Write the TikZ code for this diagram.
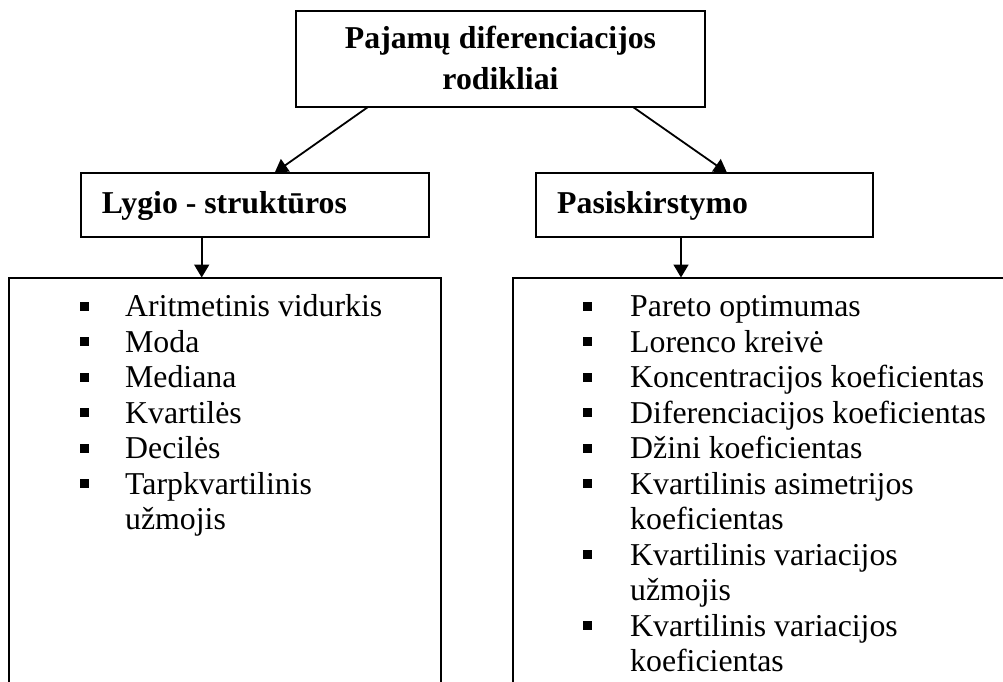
\documentclass[tikz,border=0pt]{standalone}
\usepackage{fontspec}
\setmainfont{Liberation Serif}
\usetikzlibrary{arrows.meta,calc}
\newcommand{\bulsq}[1]{\makebox[#1][l]{\raisebox{6pt}{\rule{9pt}{9pt}}}}
\tikzset{
  box/.style={draw, line width=2pt, inner sep=0pt, outer sep=0pt, anchor=north west},
  openbox/.style={inner sep=0pt, outer sep=0pt, anchor=north west},
  conn/.style={line width=1.8pt, -{Triangle[length=13pt,width=15pt]}},
  edge/.style={line width=2pt},
  bigtxt/.style={inner sep=0pt, font=\fontsize{31.8}{41}\selectfont\bfseries},
  listtxt/.style={inner sep=0pt, anchor=base west, font=\fontsize{31.8}{35.5}\selectfont}
}
\begin{document}
\begin{tikzpicture}[x=1pt,y=-1pt]
\useasboundingbox (0,0) rectangle (1003,681);
% boxes
\node[box, minimum width=409pt, minimum height=96pt] (top) at (296,11) {};
\node[box, minimum width=348.3pt, minimum height=64pt] (lmid) at (80.7,172.7) {};
\node[box, minimum width=336.7pt, minimum height=64pt] (rmid) at (536,172.7) {};
\node[openbox, minimum width=432pt, minimum height=420pt] (lbot) at (9,277.5) {};
\node[openbox, minimum width=500pt, minimum height=420pt] (rbot) at (513,277.5) {};
\draw[edge] (lbot.south west) -- (lbot.north west) -- (lbot.north east) -- (lbot.south east);
\draw[edge] (rbot.south west) -- (rbot.north west) -- (rbot.north east);
% texts
\node[bigtxt, anchor=base] (title) at (500.5,48.3)
  {\begin{tabular}[t]{@{}c@{}}Pajamų diferenciacijos\\rodikliai\end{tabular}};
\node[bigtxt, anchor=base west] (ltitle) at (101.7,213) {Lygio - struktūros};
\node[bigtxt, anchor=base west] (rtitle) at (557,213) {Pasiskirstymo};
\node[listtxt] (llist) at (80,316.7) {\begin{tabular}[t]{@{}l@{}l@{}}
\bulsq{45pt} & Aritmetinis vidurkis\\
\bulsq{45pt} & Moda\\
\bulsq{45pt} & Mediana\\
\bulsq{45pt} & Kvartilės\\
\bulsq{45pt} & Decilės\\
\bulsq{45pt} & Tarpkvartilinis\\
 & užmojis
\end{tabular}};
\node[listtxt] (rlist) at (583,316.7) {\begin{tabular}[t]{@{}l@{}l@{}}
\bulsq{47pt} & Pareto optimumas\\
\bulsq{47pt} & Lorenco kreivė\\
\bulsq{47pt} & Koncentracijos koeficientas\\
\bulsq{47pt} & Diferenciacijos koeficientas\\
\bulsq{47pt} & Džini koeficientas\\
\bulsq{47pt} & Kvartilinis asimetrijos\\
 & koeficientas\\
\bulsq{47pt} & Kvartilinis variacijos\\
 & užmojis\\
\bulsq{47pt} & Kvartilinis variacijos\\
 & koeficientas
\end{tabular}};
% connectors
\draw[conn] ($(top.south west)+(72,0)$) -- ($(lmid.north west)+(194,0)$);
\draw[conn] ($(top.south west)+(337,0)$) -- ($(rmid.north west)+(191,0)$);
\draw[conn] ($(lmid.south west)+(121,0)$) -- ($(lbot.north west)+(192.7,0)$);
\draw[conn] ($(rmid.south west)+(145,0)$) -- ($(rbot.north west)+(168,0)$);
\end{tikzpicture}
\end{document}
